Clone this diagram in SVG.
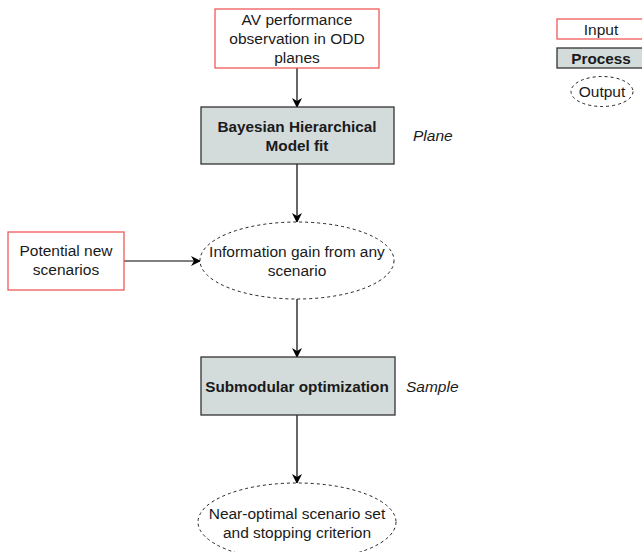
<svg xmlns="http://www.w3.org/2000/svg" width="642" height="552" viewBox="0 0 642 552">
<defs>
<marker id="ah" viewBox="0 0 10 10" refX="9" refY="5" markerWidth="10" markerHeight="10" markerUnits="userSpaceOnUse" orient="auto">
<path d="M0,0 L10,5 L0,10 L3,5 Z" fill="#000"/>
</marker>
<style>
.inp{fill:#fff;stroke:#f05a5a;stroke-width:1.3}
.proc{fill:#d3dbdb;stroke:#333;stroke-width:1.3}
.out{fill:#fff;stroke:#222;stroke-width:1;stroke-dasharray:3,3}
.t{font-family:"Liberation Sans",Arial,sans-serif;font-size:15.5px;fill:#1a1a1a;text-anchor:middle}
.b{font-weight:bold;font-size:15.3px}
.i{font-style:italic;text-anchor:start}
.c{stroke:#000;stroke-width:1.2;fill:none;marker-end:url(#ah)}
</style>
</defs>
<rect width="642" height="552" fill="#fff"/>
<g id="connectors">
<line class="c" x1="297" y1="68" x2="297" y2="107"/>
<line class="c" x1="297" y1="164" x2="297" y2="222"/>
<line class="c" x1="124" y1="261" x2="200" y2="261"/>
<line class="c" x1="297" y1="299" x2="297" y2="357"/>
<line class="c" x1="297" y1="415" x2="297" y2="483"/>
</g>
<g id="av-observation">
<rect class="inp" x="215" y="9" width="164" height="59"/>
<text class="t" x="297" y="25">AV performance</text>
<text class="t" x="297" y="44">observation in ODD</text>
<text class="t" x="297" y="63">planes</text>
</g>
<g id="bhm-fit">
<rect class="proc" x="201" y="107" width="193" height="57"/>
<text class="t b" x="297" y="132">Bayesian Hierarchical</text>
<text class="t b" x="297" y="151">Model fit</text>
</g>
<g id="plane-label">
<text class="t i" x="413" y="141">Plane</text>
</g>
<g id="potential-scenarios">
<rect class="inp" x="8" y="232" width="116" height="58"/>
<text class="t" x="66" y="256">Potential new</text>
<text class="t" x="66" y="275">scenarios</text>
</g>
<g id="info-gain">
<ellipse class="out" cx="297" cy="260.5" rx="97" ry="38.5"/>
<text class="t" x="297" y="257">Information gain from any</text>
<text class="t" x="297" y="276">scenario</text>
</g>
<g id="submodular">
<rect class="proc" x="201" y="357" width="194" height="58"/>
<text class="t b" x="297" y="392">Submodular optimization</text>
</g>
<g id="sample-label">
<text class="t i" x="406" y="392">Sample</text>
</g>
<g id="near-optimal">
<ellipse class="out" cx="297" cy="522" rx="99" ry="39"/>
<text class="t" x="297" y="519">Near-optimal scenario set</text>
<text class="t" x="297" y="538">and stopping criterion</text>
</g>
<g id="legend-input">
<rect class="inp" x="557" y="19" width="90" height="20"/>
<text class="t" x="601" y="35">Input</text>
</g>
<g id="legend-process">
<rect class="proc" x="557" y="48" width="90" height="20"/>
<text class="t b" x="601" y="64">Process</text>
</g>
<g id="legend-output">
<ellipse class="out" cx="602" cy="91.5" rx="31" ry="15"/>
<text class="t" x="602" y="97">Output</text>
</g>
</svg>
